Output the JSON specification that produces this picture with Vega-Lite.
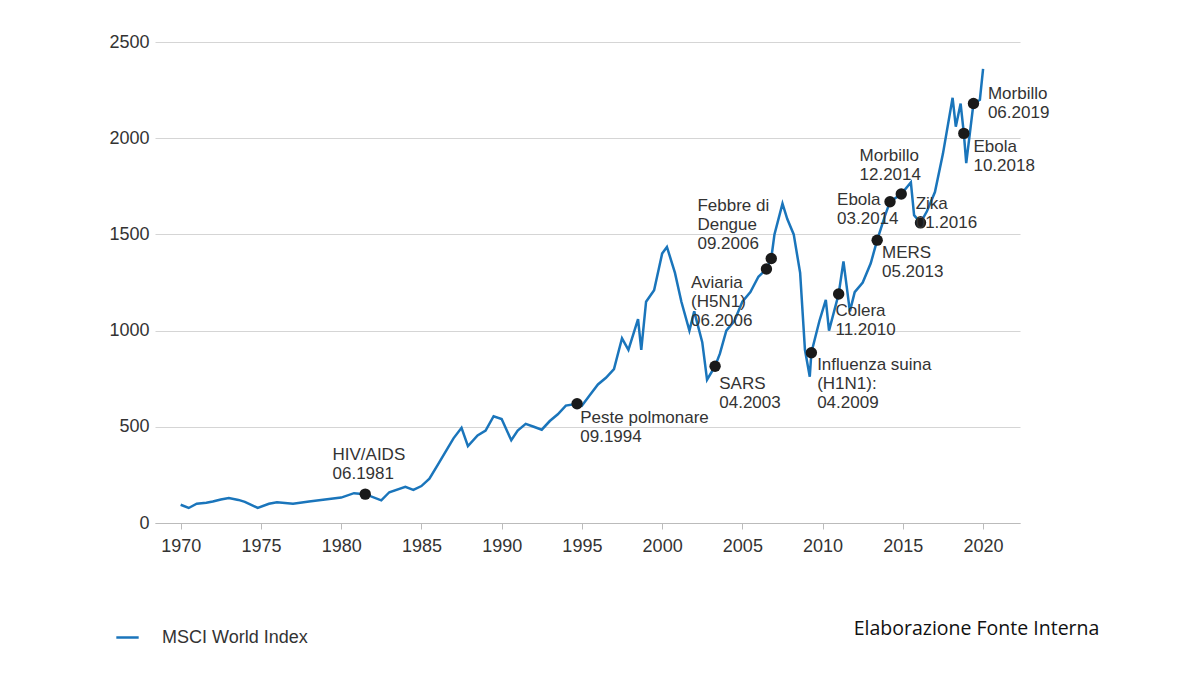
{
"$schema":"https://vega.github.io/schema/vega-lite/v6.json",
"width":865,"height":481,"autosize":{"type":"none"},
"padding":{"left":155,"top":42,"right":180,"bottom":152},
"background":"white",
"config":{"font":"Liberation Sans","view":{"stroke":null}},
"title":{"text":"Elaborazione Fonte Interna","orient":"bottom","anchor":"end","offset":-27,"fontSize":19.5,"fontWeight":"normal","font":"Open Sans","color":"#111","dx":50},
"datasets":{
"series":[
{"t":1970,"v":95},{"t":1970.5,"v":78},{"t":1971,"v":100},{"t":1971.6,"v":105},{"t":1972,"v":112},{"t":1972.5,"v":122},{"t":1973,"v":130},{"t":1973.6,"v":120},{"t":1974,"v":110},{"t":1974.8,"v":78},{"t":1975.5,"v":100},{"t":1976,"v":108},{"t":1977,"v":100},{"t":1978,"v":112},{"t":1979,"v":122},{"t":1980,"v":132},{"t":1980.8,"v":155},{"t":1981.5,"v":150},{"t":1982.5,"v":118},{"t":1983,"v":160},{"t":1984,"v":188},{"t":1984.5,"v":172},{"t":1985,"v":192},{"t":1985.5,"v":230},{"t":1986,"v":300},{"t":1986.5,"v":370},{"t":1987,"v":440},{"t":1987.5,"v":495},{"t":1987.9,"v":400},{"t":1988.5,"v":455},{"t":1989,"v":480},{"t":1989.5,"v":555},{"t":1990,"v":540},{"t":1990.6,"v":430},{"t":1991,"v":480},{"t":1991.5,"v":515},{"t":1992,"v":500},{"t":1992.5,"v":485},{"t":1993,"v":530},{"t":1993.5,"v":565},{"t":1994,"v":610},{"t":1994.7,"v":620},{"t":1995,"v":610},{"t":1995.5,"v":665},{"t":1996,"v":720},{"t":1996.5,"v":755},{"t":1997,"v":800},{"t":1997.5,"v":960},{"t":1997.9,"v":900},{"t":1998.5,"v":1060},{"t":1998.7,"v":900},{"t":1999,"v":1150},{"t":1999.5,"v":1210},{"t":2000,"v":1400},{"t":2000.3,"v":1435},{"t":2000.8,"v":1300},{"t":2001.2,"v":1150},{"t":2001.7,"v":1000},{"t":2002,"v":1100},{"t":2002.5,"v":940},{"t":2002.8,"v":745},{"t":2003.3,"v":815},{"t":2003.6,"v":880},{"t":2004,"v":1000},{"t":2004.5,"v":1050},{"t":2005,"v":1150},{"t":2005.5,"v":1200},{"t":2006,"v":1280},{"t":2006.5,"v":1320},{"t":2006.8,"v":1375},{"t":2007,"v":1500},{"t":2007.5,"v":1660},{"t":2007.8,"v":1580},{"t":2008.2,"v":1500},{"t":2008.6,"v":1300},{"t":2008.9,"v":900},{"t":2009.2,"v":760},{"t":2009.3,"v":885},{"t":2009.8,"v":1050},{"t":2010.2,"v":1160},{"t":2010.4,"v":1000},{"t":2011,"v":1190},{"t":2011.3,"v":1360},{"t":2011.7,"v":1100},{"t":2012,"v":1200},{"t":2012.5,"v":1250},{"t":2013,"v":1350},{"t":2013.4,"v":1470},{"t":2013.9,"v":1600},{"t":2014.2,"v":1670},{"t":2014.9,"v":1710},{"t":2015.5,"v":1770},{"t":2015.7,"v":1600},{"t":2016.1,"v":1560},{"t":2016.5,"v":1620},{"t":2017,"v":1720},{"t":2017.5,"v":1920},{"t":2018.1,"v":2210},{"t":2018.3,"v":2060},{"t":2018.6,"v":2180},{"t":2018.8,"v":2025},{"t":2018.95,"v":1870},{"t":2019.4,"v":2180},{"t":2019.8,"v":2200},{"t":2020,"v":2360}],
"events":[
{"t":1981.5,"v":150,"lx":1979.46,"ly":395,"label":"HIV/AIDS\n06.1981"},
{"t":1994.7,"v":620,"lx":1994.9,"ly":587,"label":"Peste polmonare\n09.1994"},
{"t":2003.3,"v":815,"lx":2003.56,"ly":764,"label":"SARS\n04.2003"},
{"t":2006.5,"v":1320,"lx":2001.8,"ly":1289,"label":"Aviaria\n(H5N1)\n06.2006"},
{"t":2006.8,"v":1375,"lx":2002.2,"ly":1689,"label":"Febbre di\nDengue\n09.2006"},
{"t":2009.3,"v":885,"lx":2009.66,"ly":863,"label":"Influenza suina\n(H1N1):\n04.2009"},
{"t":2011,"v":1190,"lx":2010.8,"ly":1143,"label":"Colera\n11.2010"},
{"t":2013.4,"v":1470,"lx":2013.7,"ly":1445,"label":"MERS\n05.2013"},
{"t":2014.2,"v":1670,"lx":2010.9,"ly":1720,"label":"Ebola\n03.2014"},
{"t":2014.9,"v":1710,"lx":2012.3,"ly":1949,"label":"Morbillo\n12.2014"},
{"t":2016.1,"v":1560,"lx":2015.8,"ly":1700,"label":"Zika\n01.2016"},
{"t":2018.8,"v":2025,"lx":2019.4,"ly":1996,"label":"Ebola\n10.2018"},
{"t":2019.4,"v":2180,"lx":2020.3,"ly":2271,"label":"Morbillo\n06.2019"}]},
"layer":[
{"data":{"name":"series"},"mark":{"type":"line","strokeWidth":2.5},
"encoding":{"x":{"field":"t","type":"quantitative","scale":{"domain":[1968.4,2022.3],"nice":false,"zero":false},"axis":{"title":null,"values":[1970,1975,1980,1985,1990,1995,2000,2005,2010,2015,2020],"format":"d","grid":false,"labelFontSize":18,"labelColor":"#333","domainColor":"#bbb","tickColor":"#bbb","tickSize":6,"labelPadding":8}},
"y":{"field":"v","type":"quantitative","scale":{"domain":[0,2500],"nice":false},"axis":{"title":null,"values":[0,500,1000,1500,2000,2500],"format":"d","labelFontSize":18,"labelColor":"#333","domain":false,"ticks":false,"gridColor":"#d5d5d5","labelPadding":6}},
"color":{"datum":"MSCI World Index","scale":{"range":["#1a75bb"]},"legend":{"title":null,"orient":"none","legendX":-40,"legendY":583,"symbolType":"stroke","symbolStrokeWidth":2.5,"symbolSize":500,"labelFontSize":18,"labelColor":"#333","labelOffset":22}}}},
{"data":{"name":"events"},"mark":{"type":"point","filled":true,"color":"#1a1a1a","size":130,"opacity":1},
"encoding":{"x":{"field":"t","type":"quantitative"},"y":{"field":"v","type":"quantitative"}}},
{"data":{"name":"events"},"mark":{"type":"text","align":"left","baseline":"top","fontSize":17,"color":"#333","lineBreak":"\n","lineHeight":19},
"encoding":{"x":{"field":"lx","type":"quantitative"},"y":{"field":"ly","type":"quantitative"},"text":{"field":"label"}}}
]}
